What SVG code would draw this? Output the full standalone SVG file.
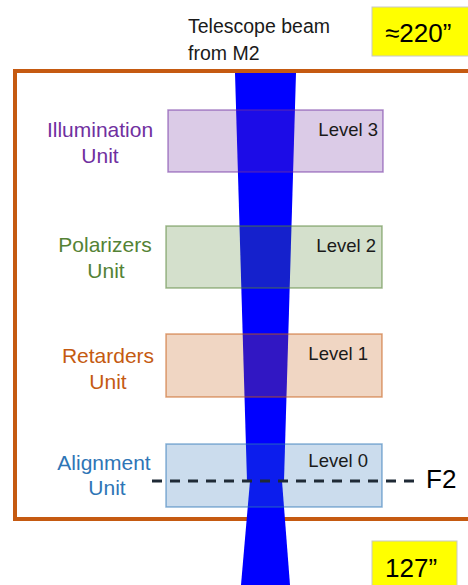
<svg xmlns="http://www.w3.org/2000/svg" width="468" height="585" viewBox="0 0 468 585">
  <style>
    text { font-family: "Liberation Sans", Arial, sans-serif; }
    .unit { font-size: 21px; text-anchor: middle; }
    .level { font-size: 18.5px; fill: #1a1a1a; text-anchor: end; }
    .box { stroke-width: 1.5; fill-opacity: 0.25; stroke-opacity: 0.55; }
    .tag { fill: #ffff00; stroke: #c8c8c8; stroke-width: 1; }
    .big { font-size: 26px; fill: #000000; }
  </style>

  <rect width="468" height="585" fill="#ffffff"/>

  <!-- instrument enclosure -->
  <rect id="enclosure" x="15" y="71" width="470" height="448" fill="none" stroke="#c55a11" stroke-width="4"/>

  <!-- telescope beam converging to F2, then diverging -->
  <g id="beam" fill="#0000ff">
    <polygon points="235,73 296,73 284,481 247,481"/>
    <polygon points="250,481 282,481 290,585 241,585"/>
  </g>

  <g id="level3">
    <rect class="box" x="168" y="110" width="215" height="62" fill="#7030a0" stroke="#7030a0"/>
    <text class="level" x="378" y="136">Level 3</text>
  </g>
  <g id="level2">
    <rect class="box" x="166" y="226" width="216" height="62" fill="#548235" stroke="#548235"/>
    <text class="level" x="376" y="252">Level 2</text>
  </g>
  <g id="level1">
    <rect class="box" x="166" y="334" width="216" height="63" fill="#c55a11" stroke="#c55a11"/>
    <text class="level" x="368" y="360">Level 1</text>
  </g>
  <g id="level0">
    <rect class="box" x="166" y="444" width="216" height="63" fill="#2e75b6" stroke="#2e75b6"/>
    <text class="level" x="368" y="467">Level 0</text>
  </g>

  <!-- focal plane F2 -->
  <g id="f2">
    <line x1="152" y1="481" x2="414" y2="481" stroke="#1f2a36" stroke-width="3" stroke-dasharray="10 8"/>
    <text class="big" x="426" y="488">F2</text>
  </g>

  <!-- unit names -->
  <g id="illumination-unit" fill="#7030a0">
    <text class="unit" x="100" y="137">Illumination</text>
    <text class="unit" x="100" y="163">Unit</text>
  </g>
  <g id="polarizers-unit" fill="#548235">
    <text class="unit" x="105" y="252">Polarizers</text>
    <text class="unit" x="106" y="278">Unit</text>
  </g>
  <g id="retarders-unit" fill="#c55a11">
    <text class="unit" x="108" y="363">Retarders</text>
    <text class="unit" x="108" y="389">Unit</text>
  </g>
  <g id="alignment-unit" fill="#2e75b6">
    <text class="unit" x="104" y="470">Alignment</text>
    <text class="unit" x="107" y="495">Unit</text>
  </g>

  <g id="beam-label" fill="#1a1a1a" font-size="19.5">
    <text x="188" y="33">Telescope beam</text>
    <text x="188" y="60">from M2</text>
  </g>

  <g id="height-top">
    <rect class="tag" x="372" y="7" width="100" height="49"/>
    <text class="big" x="385" y="42">≈220”</text>
  </g>
  <g id="height-bottom">
    <rect class="tag" x="372" y="541" width="85" height="50"/>
    <text class="big" x="385" y="577">127”</text>
  </g>
</svg>
